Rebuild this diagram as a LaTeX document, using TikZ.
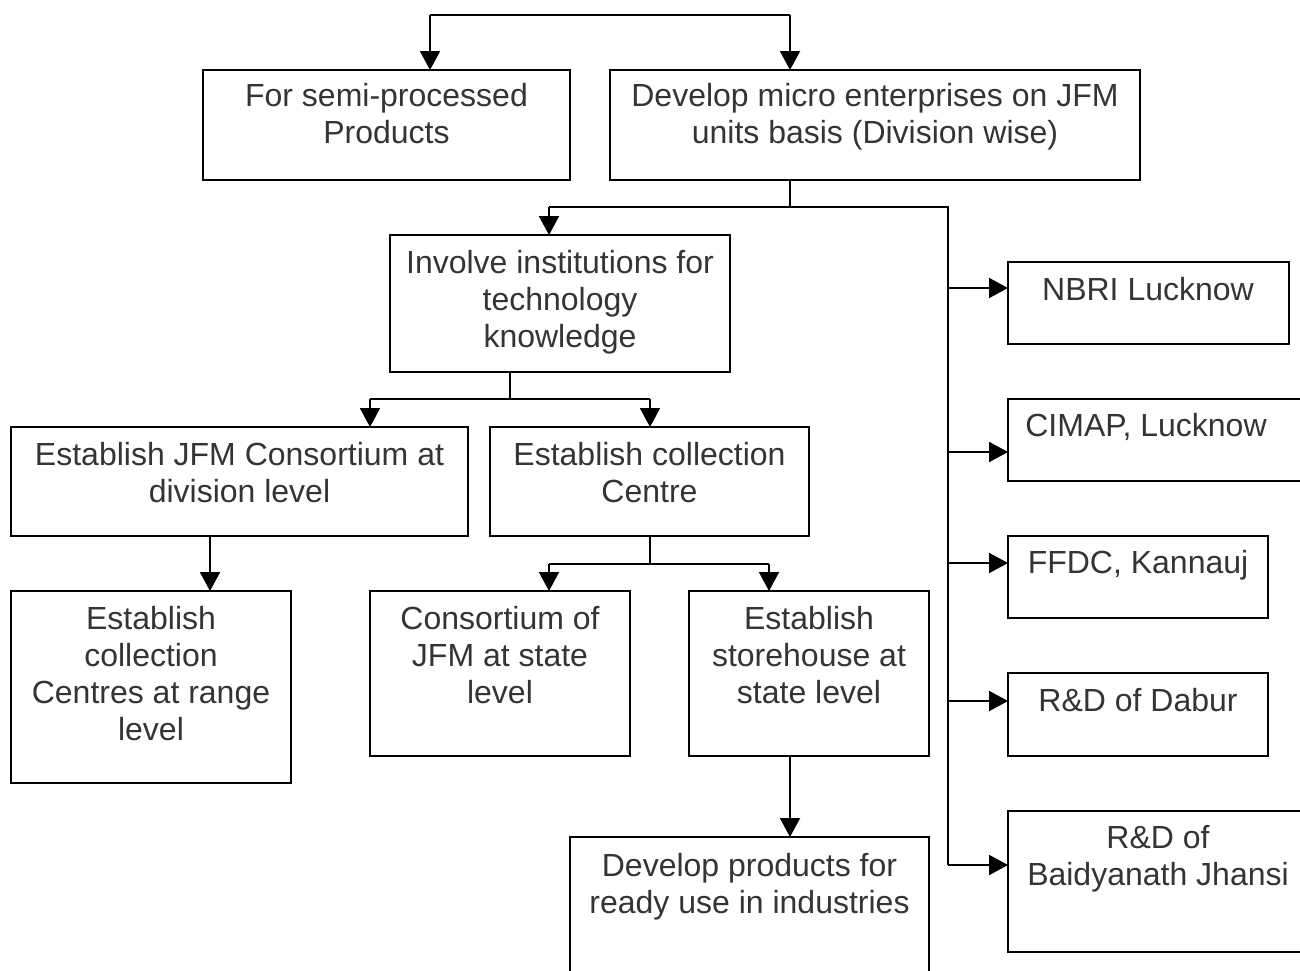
\documentclass[tikz,border=0pt]{standalone}
\usepackage{fontspec}
\setmainfont{Liberation Sans}
\usetikzlibrary{arrows.meta}
\definecolor{inkgrey}{RGB}{52,52,52}
\tikzset{
  box/.style={draw=black, line width=2pt, rectangle, anchor=north west, inner sep=0pt, outer sep=0pt},
  txt/.style={anchor=north, inner sep=0pt, align=center, text=inkgrey,
              font=\fontsize{32}{37}\selectfont},
  link/.style={draw=black, line width=2pt},
  arr/.style={link, -{Triangle[length=19pt,width=20pt]}},
}
\begin{document}
\begin{tikzpicture}[x=1pt,y=-1pt]
\useasboundingbox (0,0) rectangle (1300,970);

% boxes
\node[box, minimum width=367pt, minimum height=110pt] (semi)   at (203,70)  {};
\node[box, minimum width=530pt, minimum height=110pt] (micro)  at (610,70)  {};
\node[box, minimum width=340pt, minimum height=137pt] (inst)   at (390,235) {};
\node[box, minimum width=457pt, minimum height=109pt] (jfmdiv) at (11,427)  {};
\node[box, minimum width=319pt, minimum height=109pt] (coll)   at (490,427) {};
\node[box, minimum width=280pt, minimum height=192pt] (range)  at (11,591)  {};
\node[box, minimum width=260pt, minimum height=165pt] (state)  at (370,591) {};
\node[box, minimum width=240pt, minimum height=165pt] (store)  at (689,591) {};
\node[box, minimum width=359pt, minimum height=150pt] (ready)  at (570,837) {};
\node[box, minimum width=281pt, minimum height=82pt]  (nbri)   at (1008,262) {};
\node[box, minimum width=300pt, minimum height=82pt]  (cimap)  at (1008,399) {};
\node[box, minimum width=260pt, minimum height=82pt]  (ffdc)   at (1008,536) {};
\node[box, minimum width=260pt, minimum height=83pt]  (dabur)  at (1008,673) {};
\node[box, minimum width=300pt, minimum height=141pt] (baid)   at (1008,811) {};

% box texts
\node[txt] (semiT)   at (386.5,83)  {For semi-processed\\Products};
\node[txt] (microT)  at (875,83)    {Develop micro enterprises on JFM\\units basis (Division wise)};
\node[txt] (instT)   at (560,250)   {Involve institutions for\\technology\\knowledge};
\node[txt] (jfmdivT) at (239.5,442) {Establish JFM Consortium at\\division level};
\node[txt] (collT)   at (649.5,442) {Establish collection\\Centre};
\node[txt] (rangeT)  at (151,606)   {Establish\\collection\\Centres at range\\level};
\node[txt] (stateT)  at (500,606)   {Consortium of\\JFM at state\\level};
\node[txt] (storeT)  at (809,606)   {Establish\\storehouse at\\state level};
\node[txt] (readyT)  at (749.5,853) {Develop products for\\ready use in industries};
\node[txt] (nbriT)   at (1148,277)  {NBRI Lucknow};
\node[txt] (cimapT)  at (1146,413)  {CIMAP, Lucknow};
\node[txt] (ffdcT)   at (1138,550)  {FFDC, Kannauj};
\node[txt] (daburT)  at (1138,688)  {R\&D of Dabur};
\node[txt] (baidT)   at (1158,825)  {R\&D of\\Baidyanath Jhansi};

% junction points
\coordinate (topL)  at (430,15);
\coordinate (topR)  at (790,15);
\coordinate (j1)    at (790,207);
\coordinate (c1)    at (549,207);
\coordinate (trk)   at (948,207);
\coordinate (trkE)  at (948,865);
\coordinate (t1)    at (948,288);
\coordinate (t2)    at (948,452);
\coordinate (t3)    at (948,563);
\coordinate (t4)    at (948,701);
\coordinate (t5)    at (948,865);
\coordinate (j2)    at (510,399);
\coordinate (d1)    at (370,399);
\coordinate (e1)    at (650,399);
\coordinate (f1)    at (210,560);
\coordinate (j3)    at (650,564);
\coordinate (g1)    at (549,564);
\coordinate (h1)    at (769,564);
\coordinate (i1)    at (790,800);

% top split
\draw[link] (topL) -- (topR);
\draw[arr] (topL) -- (topL |- semi.north);
\draw[arr] (topR) -- (topR |- micro.north);

% micro enterprises branch
\draw[link] (j1 |- micro.south) -- (j1);
\draw[link] (c1) -- (trk) -- (trkE);
\draw[arr] (c1) -- (c1 |- inst.north);

% institutions on the right
\draw[arr] (t1) -- (nbri.west |- t1);
\draw[arr] (t2) -- (cimap.west |- t2);
\draw[arr] (t3) -- (ffdc.west |- t3);
\draw[arr] (t4) -- (dabur.west |- t4);
\draw[arr] (t5) -- (baid.west |- t5);

% institutions split
\draw[link] (j2 |- inst.south) -- (j2);
\draw[link] (d1) -- (e1);
\draw[arr] (d1) -- (d1 |- jfmdiv.north);
\draw[arr] (e1) -- (e1 |- coll.north);

% consortium to range centres
\draw[arr] (f1 |- jfmdiv.south) -- (f1 |- range.north);

% collection centre split
\draw[link] (j3 |- coll.south) -- (j3);
\draw[link] (g1) -- (h1);
\draw[arr] (g1) -- (g1 |- state.north);
\draw[arr] (h1) -- (h1 |- store.north);

% storehouse to products
\draw[arr] (i1 |- store.south) -- (i1 |- ready.north);
\end{tikzpicture}
\end{document}
